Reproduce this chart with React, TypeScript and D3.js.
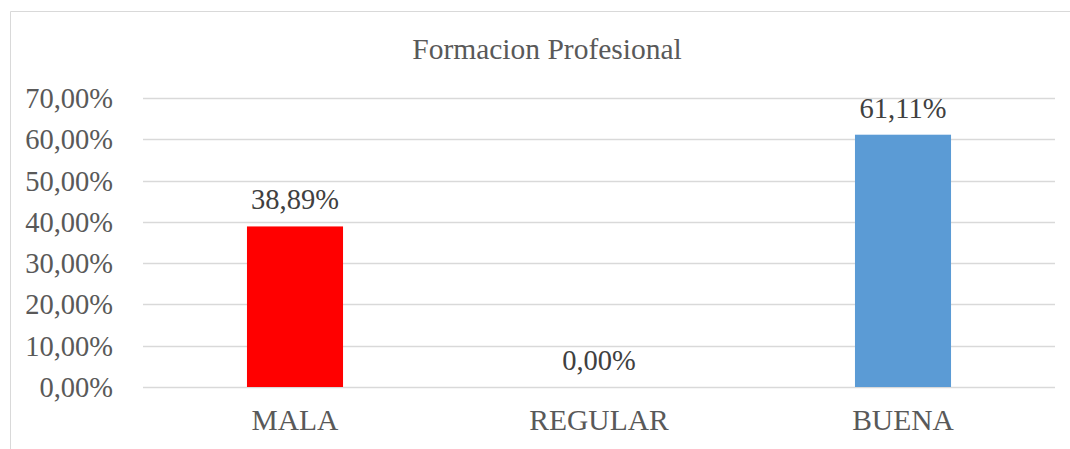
import React from "react";
import * as d3 from "d3";

const categories = ["MALA", "REGULAR", "BUENA"];
const values = [0.3889, 0.0, 0.6111];
const barColors = ["#FF0000", "#5B9BD5", "#5B9BD5"];
const yTicks = [0, 0.1, 0.2, 0.3, 0.4, 0.5, 0.6, 0.7];
const title = "Formacion Profesional";

const W = 1070;
const H = 449;
const FONT = '"Liberation Serif", "Times New Roman", Times, serif';
const TEXT = "#595959";
const GRID = "#D9D9D9";

const fmt = (v: number) => (v * 100).toFixed(2).replace(".", ",") + "%";

export default function App() {
  const plotLeft = 143;
  const plotRight = 1055;
  const y = d3.scaleLinear().domain([0, 0.7]).range([387, 98]);
  const x = d3
    .scaleBand<string>()
    .domain(categories)
    .range([plotLeft, plotRight])
    .paddingInner(0.684)
    .paddingOuter(0.342);

  const ts = { fontFamily: FONT };

  return (
    <svg
      width={W}
      height={H}
      style={{ position: "absolute", left: 0, top: 0, background: "#fff", fontFamily: FONT }}
    >
      <rect x={0} y={0} width={W} height={H} fill="#fff" />
      <path d={`M10.5,${H} V11.5 H${W}`} fill="none" stroke={GRID} strokeWidth={1} />
      <text x={547} y={59} textAnchor="middle" fontSize={29.5} fill={TEXT} style={ts}>
        {title}
      </text>
      {yTicks.map((t) => (
        <g key={t}>
          <line
            x1={plotLeft}
            x2={plotRight}
            y1={Math.round(y(t)) + 0.5}
            y2={Math.round(y(t)) + 0.5}
            stroke={GRID}
            strokeWidth={1.5}
          />
          <text x={113} y={y(t) + 10} textAnchor="end" fontSize={28.5} fill={TEXT} style={ts}>
            {fmt(t)}
          </text>
        </g>
      ))}
      {categories.map((c, i) => (
        <g key={c}>
          <rect
            x={x(c)}
            y={y(values[i])}
            width={x.bandwidth()}
            height={y(0) - y(values[i])}
            fill={barColors[i]}
          />
          <text
            x={(x(c) as number) + x.bandwidth() / 2}
            y={y(values[i]) - 17}
            textAnchor="middle"
            fontSize={28.5}
            fill="#404040"
            style={ts}
          >
            {fmt(values[i])}
          </text>
          <text
            x={(x(c) as number) + x.bandwidth() / 2}
            y={430}
            textAnchor="middle"
            fontSize={29.5}
            fill={TEXT}
            style={ts}
          >
            {c}
          </text>
        </g>
      ))}
    </svg>
  );
}
